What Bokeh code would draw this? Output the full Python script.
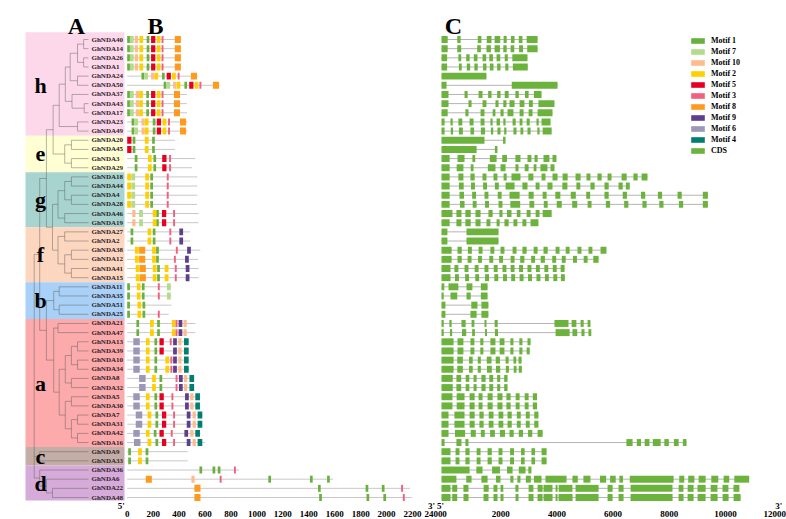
from bokeh.plotting import figure
from bokeh.models import Range1d, Legend, LegendItem
from bokeh.core.properties import value
from bokeh.embed import file_html
from bokeh.resources import INLINE

# ---------------- data ----------------
GENES = ["GhNDA40", "GhNDA14", "GhNDA26", "GhNDA1", "GhNDA24", "GhNDA50", "GhNDA37", "GhNDA43", "GhNDA17", "GhNDA23", "GhNDA49",
         "GhNDA20", "GhNDA45", "GhNDA3", "GhNDA29",
         "GhNDA18", "GhNDA44", "GhNDA4", "GhNDA28", "GhNDA46", "GhNDA19",
         "GhNDA27", "GhNDA2", "GhNDA38", "GhNDA12", "GhNDA41", "GhNDA15",
         "GhNDA11", "GhNDA35", "GhNDA51", "GhNDA25",
         "GhNDA21", "GhNDA47", "GhNDA13", "GhNDA39", "GhNDA10", "GhNDA34", "GhNDA8", "GhNDA32", "GhNDA5", "GhNDA30",
         "GhNDA7", "GhNDA31", "GhNDA42", "GhNDA16",
         "GhNDA9", "GhNDA33",
         "GhNDA36", "GhNDA6", "GhNDA22", "GhNDA48"]

GROUPS = ["h", "e", "g", "f", "b", "a", "c", "d"]
GROUP_SIZES = [11, 4, 6, 6, 4, 14, 2, 4]
GROUP_COLORS = ["#FDD8EA", "#FFFFD3", "#A7D4CF", "#FDD6C0", "#A9D0F6", "#FCAAAB", "#C4ADA6", "#D6ABD9"]

TREE = (0.11, [
    (0.20, [
        (0.31, [
            (0.42, [
                (0.52, [
                    (0.62, [
                        (0.70, [(0.82, [(0.92, ["GhNDA40", "GhNDA14"]), (0.92, ["GhNDA26", "GhNDA1"])]),
                                (0.82, ["GhNDA24", "GhNDA50"])]),
                        (0.73, ["GhNDA37", (0.93, ["GhNDA43", "GhNDA17"])]),
                    ]),
                    (0.82, ["GhNDA23", "GhNDA49"]),
                ]),
                (0.61, [(0.72, ["GhNDA20", "GhNDA45"]), (0.72, ["GhNDA3", "GhNDA29"])]),
            ]),
            (0.41, [
                (0.50, [(0.61, [(0.72, ["GhNDA18", "GhNDA44"]), (0.72, ["GhNDA4", "GhNDA28"])]),
                        (0.61, ["GhNDA46", "GhNDA19"])]),
                (0.50, [(0.61, ["GhNDA27", "GhNDA2"]),
                        (0.61, [(0.72, ["GhNDA38", "GhNDA12"]), (0.72, ["GhNDA41", "GhNDA15"])])]),
            ]),
        ]),
        (0.31, [
            (0.43, [(0.52, ["GhNDA11", "GhNDA35"]), (0.52, ["GhNDA51", "GhNDA25"])]),
            (0.43, [
                (0.50, ["GhNDA21", "GhNDA47"]),
                (0.52, [
                    (0.62, [(0.72, [(0.82, ["GhNDA13", "GhNDA39"]), (0.82, ["GhNDA10", "GhNDA34"])]),
                            (0.72, ["GhNDA8", "GhNDA32"])]),
                    (0.62, [(0.72, ["GhNDA5", "GhNDA30"]),
                            (0.72, [(0.82, ["GhNDA7", "GhNDA31"]), (0.82, ["GhNDA42", "GhNDA16"])])]),
                ]),
            ]),
        ]),
    ]),
    (0.20, ["GhNDA9", "GhNDA33"]),
    (0.20, ["GhNDA36", (0.31, ["GhNDA6", (0.41, ["GhNDA22", "GhNDA48"])])]),
])

MOTIF_IDS = [1, 7, 10, 2, 5, 3, 8, 9, 6, 4]
MOTIF_COLORS = ["#6AB03F", "#B3DB8D", "#FDBB8E", "#FFD000", "#E60020", "#F2607F", "#FF9A1F", "#5D3F8D", "#9C97B7", "#007F70"]
MOTIF_WIDTHS = [21, 29, 25, 29, 33, 15, 47, 29, 50, 36]
CDS_COLOR = "#6CB33E"

PROT_LEN = {
    "GhNDA40": 415, "GhNDA14": 415, "GhNDA26": 415, "GhNDA1": 415, "GhNDA24": 545, "GhNDA50": 710,
    "GhNDA37": 460, "GhNDA43": 460, "GhNDA17": 460, "GhNDA23": 465, "GhNDA49": 465,
    "GhNDA20": 368, "GhNDA45": 368, "GhNDA3": 525, "GhNDA29": 500,
    "GhNDA18": 540, "GhNDA44": 540, "GhNDA4": 540, "GhNDA28": 540, "GhNDA46": 551, "GhNDA19": 551,
    "GhNDA27": 485, "GhNDA2": 485, "GhNDA38": 564, "GhNDA12": 546, "GhNDA41": 551, "GhNDA15": 551,
    "GhNDA11": 341, "GhNDA35": 341, "GhNDA51": 341, "GhNDA25": 320,
    "GhNDA21": 525, "GhNDA47": 525, "GhNDA13": 478, "GhNDA39": 478, "GhNDA10": 478, "GhNDA34": 478,
    "GhNDA8": 517, "GhNDA32": 517, "GhNDA5": 565, "GhNDA30": 565, "GhNDA7": 580, "GhNDA31": 580,
    "GhNDA42": 565, "GhNDA16": 598, "GhNDA9": 467, "GhNDA33": 467,
    "GhNDA36": 862, "GhNDA6": 1588, "GhNDA22": 2180, "GhNDA48": 2195,
}

H1 = [(1, 0), (7, 21), (10, 58), (2, 94), (1, 150), (5, 184), (2, 228), (3, 265), (8, 367)]
H2 = [(1, 0), (7, 21), (10, 66), (2, 92), (1, 147), (5, 184), (2, 228), (3, 265), (8, 360)]
H3 = [(1, 34), (7, 55), (10, 110), (2, 136), (1, 197), (5, 228), (2, 273), (3, 315), (8, 407)]
E1 = [(5, 0), (1, 42), (2, 136), (1, 192)]
E2 = [(1, 58), (2, 160), (1, 202), (5, 270), (3, 323)]
G1 = [(2, 0), (7, 32), (2, 139), (1, 178), (3, 305)]
G2 = [(10, 39), (7, 92), (2, 197), (1, 223), (5, 268), (3, 354)]
F1 = [(1, 26), (2, 157), (1, 197), (3, 325), (9, 402)]
F2 = [(2, 66), (8, 97), (2, 197), (1, 231), (2, 289), (3, 367), (9, 451)]
B1 = [(1, 0), (2, 74), (1, 113), (3, 236), (7, 307)]
A1 = [(1, 71), (2, 176), (1, 231), (2, 344), (3, 373), (9, 396), (10, 434)]
A2 = [(6, 47), (2, 144), (1, 210), (2, 294), (3, 333), (9, 354), (10, 394), (4, 438)]
A3 = [(6, 92), (2, 192), (1, 249), (3, 373), (9, 399), (10, 438), (4, 480)]
A4 = [(6, 47), (2, 144), (1, 210), (5, 249), (3, 341), (9, 446), (10, 486), (4, 525)]
A5 = [(6, 66), (2, 157), (1, 218), (5, 268), (3, 354), (9, 459), (10, 504), (4, 543)]
C1 = [(1, 8), (2, 84), (1, 142)]

MOTIFS = {
    "GhNDA40": H1, "GhNDA14": H1, "GhNDA26": H1, "GhNDA1": H1,
    "GhNDA24": [(1, 110), (7, 131), (10, 184), (2, 210), (1, 268), (5, 304), (2, 346), (3, 389), (8, 491)],
    "GhNDA50": [(1, 281), (7, 302), (10, 354), (2, 381), (1, 441), (5, 478), (2, 520), (3, 557), (8, 661)],
    "GhNDA37": H2, "GhNDA43": H2, "GhNDA17": H2, "GhNDA23": H3, "GhNDA49": H3,
    "GhNDA20": E1, "GhNDA45": E1, "GhNDA3": E2, "GhNDA29": E2,
    "GhNDA18": G1, "GhNDA44": G1, "GhNDA4": G1, "GhNDA28": G1, "GhNDA46": G2, "GhNDA19": G2,
    "GhNDA27": F1, "GhNDA2": F1,
    "GhNDA38": [(2, 60), (8, 92), (2, 192), (1, 223), (3, 375), (9, 462)],
    "GhNDA12": [(2, 60), (8, 92), (2, 192), (1, 223), (3, 360), (9, 446)],
    "GhNDA41": F2, "GhNDA15": F2,
    "GhNDA11": B1, "GhNDA35": B1,
    "GhNDA51": [(1, 0), (2, 79), (1, 118)],
    "GhNDA25": [(1, 0), (2, 79), (1, 118), (3, 236)],
    "GhNDA21": A1, "GhNDA47": A1,
    "GhNDA13": [(6, 47), (2, 144), (1, 210), (5, 249), (3, 328), (9, 354), (10, 394), (4, 438)],
    "GhNDA39": [(6, 47), (2, 144), (1, 210), (5, 249), (9, 354), (10, 394), (4, 438)],
    "GhNDA10": A2, "GhNDA34": A2, "GhNDA8": A3, "GhNDA32": A3,
    "GhNDA5": A4, "GhNDA30": A4, "GhNDA7": A5, "GhNDA31": A5,
    "GhNDA42": [(6, 47), (2, 144), (1, 205), (5, 249), (3, 336), (9, 441), (10, 486), (4, 525)],
    "GhNDA16": [(6, 52), (2, 157), (1, 218), (5, 268), (3, 354), (9, 459), (10, 504), (4, 543)],
    "GhNDA9": C1, "GhNDA33": C1,
    "GhNDA36": [(1, 557), (1, 658), (1, 698), (3, 823)],
    "GhNDA6": [(8, 143), (10, 495), (3, 713), (1, 1088), (1, 1409), (1, 1541)],
    "GhNDA22": [(8, 518), (1, 1471), (1, 1838), (1, 1963), (3, 2112)],
    "GhNDA48": [(8, 518), (1, 1480), (1, 1845), (1, 1975), (3, 2125)],
}

EXONS = {
    "GhNDA40": [(0, 220), (560, 680), (1290, 1420), (1610, 1780), (1890, 2090), (2210, 2320), (2470, 2600), (2750, 2880), (3030, 3420)],
    "GhNDA14": [(0, 220), (560, 700), (1270, 1400), (1600, 1760), (1890, 2080), (2200, 2320), (2460, 2590), (2760, 2900), (3050, 3420)],
    "GhNDA26": [(0, 200), (600, 700), (880, 1000), (1150, 1280), (1460, 1590), (1700, 1830), (1960, 2090), (2250, 2360), (2520, 3060)],
    "GhNDA1": [(0, 200), (620, 720), (900, 1020), (1170, 1290), (1480, 1600), (1720, 1850), (1980, 2100), (2270, 2380), (2540, 3070)],
    "GhNDA24": [(0, 1600)],
    "GhNDA50": [(0, 180), (2500, 4130)],
    "GhNDA37": [(0, 250), (820, 930), (1320, 1460), (1660, 1780), (1980, 2100), (2250, 2390), (2630, 2750), (2970, 3100), (3290, 3560)],
    "GhNDA43": [(0, 250), (960, 1070), (1460, 1600), (1920, 2030), (2200, 2310), (2420, 2600), (2780, 2950), (3110, 3250), (3450, 4020)],
    "GhNDA17": [(0, 220), (850, 960), (1390, 1530), (1820, 1920), (2100, 2210), (2350, 2560), (2780, 2920), (3100, 3240), (3420, 3950)],
    "GhNDA23": [(0, 110), (320, 400), (600, 740), (1000, 1140), (1390, 1530), (1740, 1820), (1960, 2080), (2200, 2280), (2530, 2640), (2780, 2880), (3030, 3140), (3380, 3460), (3560, 3880)],
    "GhNDA49": [(0, 110), (330, 410), (620, 760), (1030, 1160), (1400, 1550), (1760, 1840), (1990, 2100), (2230, 2310), (2560, 2670), (2810, 2910), (3060, 3170), (3410, 3490), (3600, 3920)],
    "GhNDA20": [(0, 1530), (2190, 2280)],
    "GhNDA45": [(0, 1250), (1900, 1990)],
    "GhNDA3": [(0, 290), (570, 820), (1100, 1200), (1720, 1960), (2160, 2330), (2630, 2810), (3060, 3200), (3310, 3420), (3630, 3840), (3950, 4090)],
    "GhNDA29": [(0, 290), (540, 780), (1040, 1140), (1650, 1920), (2100, 2280), (2630, 2740), (2960, 3100), (3280, 3380), (3520, 3770), (3880, 4020)],
    "GhNDA18": [(0, 290), (600, 780), (1030, 1180), (1460, 1600), (1850, 1990), (2210, 2320), (2490, 2810), (3090, 3270), (3560, 3700), (3950, 4130), (4310, 4490), (4770, 4950), (5160, 5300), (5550, 5700), (5910, 6050), (6410, 6590), (6830, 6980), (7120, 7330)],
    "GhNDA44": [(0, 290), (620, 790), (1050, 1190), (1480, 1620), (1900, 2040), (2280, 2600), (2880, 3060), (3350, 3490), (3770, 3950), (4300, 4480), (4800, 4940), (5300, 5450), (5800, 5950), (6300, 6450), (6560, 6700)],
    "GhNDA4": [(0, 290), (640, 800), (1090, 1230), (1530, 1670), (2000, 2140), (2420, 2780), (3100, 3280), (3600, 3740), (4050, 4230), (4600, 4780), (5150, 5290), (5800, 5950), (6450, 6600), (7100, 7250), (7700, 7850), (8400, 8550), (9300, 9480)],
    "GhNDA28": [(0, 290), (660, 820), (1110, 1250), (1550, 1690), (2030, 2170), (2450, 2800), (3130, 3300), (3640, 3780), (4100, 4280), (4650, 4830), (5200, 5340), (5850, 6000), (6500, 6650), (7150, 7300), (7750, 7900), (8450, 8600), (9300, 9480)],
    "GhNDA46": [(0, 390), (530, 710), (850, 1040), (1210, 1390), (1670, 1820), (2060, 2170), (2330, 2490), (2680, 2810), (3030, 3170), (3350, 3490), (3600, 3920)],
    "GhNDA19": [(0, 290), (530, 710), (850, 1040), (1210, 1390), (1600, 1740), (1960, 2070), (2240, 2390), (2560, 2700), (2880, 3020), (3170, 3450)],
    "GhNDA27": [(0, 210), (890, 2030)],
    "GhNDA2": [(0, 210), (890, 2030)],
    "GhNDA38": [(0, 360), (570, 720), (940, 1080), (1320, 1460), (1740, 1880), (2100, 2240), (2530, 2670), (2880, 3030), (3280, 3420), (3630, 3780), (4060, 4200), (4420, 4560), (4840, 4980), (5230, 5370), (5660, 5870)],
    "GhNDA12": [(0, 360), (570, 720), (930, 1070), (1300, 1440), (1700, 1840), (2050, 2190), (2460, 2600), (2800, 2950), (3190, 3330), (3530, 3680), (3940, 4080), (4280, 4420), (4680, 4820), (5060, 5200), (5400, 5590)],
    "GhNDA41": [(0, 320), (460, 600), (820, 960), (1180, 1320), (1530, 1670), (1860, 2000), (2170, 2310), (2460, 2600), (2760, 2900), (3060, 3200), (3360, 3500), (3660, 3800), (3960, 4100), (4240, 4380)],
    "GhNDA15": [(0, 320), (480, 620), (840, 980), (1200, 1340), (1550, 1690), (1880, 2020), (2190, 2330), (2480, 2620), (2780, 2920), (3080, 3220), (3380, 3520), (3680, 3820), (3980, 4120), (4250, 4390)],
    "GhNDA11": [(0, 100), (250, 600), (890, 1100), (1400, 1640)],
    "GhNDA35": [(0, 80), (320, 560), (890, 1040), (1400, 1640)],
    "GhNDA51": [(0, 140), (1060, 1280), (1420, 1670)],
    "GhNDA25": [(0, 140), (1030, 1250), (1420, 1670)],
    "GhNDA21": [(0, 80), (280, 360), (710, 860), (1070, 1170), (1530, 1600), (1890, 2000), (4020, 4520), (4630, 4800), (4950, 5060), (5200, 5300)],
    "GhNDA47": [(0, 80), (300, 380), (730, 880), (1090, 1190), (1550, 1620), (1900, 2010), (4060, 4560), (4660, 4830), (4980, 5090), (5230, 5330)],
    "GhNDA13": [(0, 430), (570, 780), (1030, 1170), (1380, 1490), (1740, 1920), (2070, 2240), (2450, 2560), (2770, 2880), (3060, 3170)],
    "GhNDA39": [(0, 430), (570, 780), (1030, 1170), (1380, 1490), (1740, 1920), (2070, 2240), (2450, 2560), (2770, 2880), (3030, 3140)],
    "GhNDA10": [(0, 430), (560, 760), (980, 1110), (1290, 1400), (1610, 1780), (1930, 2080), (2280, 2390), (2560, 2660), (2740, 2850)],
    "GhNDA34": [(0, 430), (560, 760), (980, 1110), (1290, 1400), (1620, 1790), (1940, 2090), (2290, 2400), (2570, 2670), (2750, 2860)],
    "GhNDA8": [(0, 400), (530, 700), (860, 990), (1140, 1250), (1420, 1570), (1700, 1840), (1980, 2090), (2230, 2350)],
    "GhNDA32": [(0, 400), (530, 700), (860, 990), (1140, 1250), (1420, 1570), (1700, 1840), (1980, 2090), (2230, 2350)],
    "GhNDA5": [(0, 390), (540, 820), (1000, 1180), (1320, 1460), (1640, 1820), (1990, 2170), (2310, 2460), (2640, 2780), (2960, 3100), (3250, 3400)],
    "GhNDA30": [(0, 390), (540, 820), (1000, 1180), (1320, 1460), (1640, 1820), (1990, 2170), (2310, 2460), (2640, 2780), (2960, 3100), (3250, 3400)],
    "GhNDA7": [(0, 250), (460, 820), (1000, 1180), (1350, 1500), (1680, 1850), (2030, 2200), (2350, 2500), (2680, 2820), (3000, 3140), (3300, 3450)],
    "GhNDA31": [(0, 250), (460, 820), (1000, 1180), (1350, 1500), (1680, 1850), (2030, 2200), (2350, 2500), (2680, 2820), (3000, 3140), (3300, 3450)],
    "GhNDA42": [(0, 250), (480, 840), (1040, 1220), (1400, 1540), (1730, 1900), (2080, 2260), (2420, 2570), (2750, 2900), (3080, 3230), (3420, 3600)],
    "GhNDA16": [(0, 110), (530, 710), (850, 960), (6580, 6800), (6950, 7100), (7230, 7400), (7520, 7800), (7930, 8090), (8270, 8440), (8590, 8720)],
    "GhNDA9": [(0, 320), (500, 640), (850, 1000), (1250, 1390), (1640, 1790), (2030, 2170), (2440, 2580), (2830, 2960), (3200, 3330), (3560, 3740)],
    "GhNDA33": [(0, 320), (500, 640), (850, 1000), (1250, 1390), (1640, 1790), (2030, 2170), (2440, 2580), (2830, 2960), (3200, 3330), (3560, 3740)],
    "GhNDA36": [(0, 1000), (1240, 1460), (1800, 2080), (2330, 2530), (2750, 2990), (3090, 3200)],
    "GhNDA6": [(0, 530), (880, 1070), (1420, 1640), (1940, 2100), (2450, 2560), (2700, 2810), (3000, 3180), (3290, 3560), (3700, 4450), (4660, 4850), (5050, 5300), (5640, 5860), (6000, 6200), (6330, 6460), (6700, 8260), (8460, 8640), (8780, 9000), (9150, 9400), (9600, 9850), (10040, 10240), (10420, 10950)],
    "GhNDA22": [(0, 320), (380, 560), (780, 960), (1500, 1680), (1850, 1990), (2100, 2200), (2630, 2740), (3100, 3270), (3420, 3600), (3630, 3950), (4060, 4130), (4170, 4660), (4770, 5590), (5910, 6090), (6300, 6480), (6730, 8220), (8440, 8610), (8760, 8970), (9110, 9400), (9580, 9820), (10000, 10210), (10390, 10600)],
    "GhNDA48": [(0, 320), (381, 559), (783, 961), (1495, 1673), (1851, 1994), (2100, 2207), (2634, 2741), (3097, 3275), (3418, 3596), (3631, 3952), (4058, 4130), (4165, 4664), (4771, 5590), (5910, 6088), (6301, 6479), (6728, 8224), (8437, 8615), (8758, 8971), (9114, 9398), (9576, 9826), (10004, 10217), (10395, 10645)],
}

MOTIF_TICKS = [0, 200, 400, 600, 800, 1000, 1200, 1400, 1600, 1800, 2000, 2200, 2400]
GENE_TICKS = [0, 2000, 4000, 6000, 8000, 10000, 12000]
PANEL_TITLES = ["A", "B", "C"]

# ---------------- layout (reference pixel frame) ----------------
W, H = 786, 519
X0, X1 = 0.0, 786.0               # layout px covered by the frame
ROW0, ROWSTEP = 39.0, 9.16        # layout px of first row, row spacing
def row_of(py):
    return (py - ROW0) / ROWSTEP
Y_TOP, Y_BOT = row_of(0.0), row_of(519.0)

def xr(origin, k):
    return Range1d((X0 - origin) / k, (X1 - origin) / k)

SERIF = value("Liberation Serif")
BOX = 0.38

p = figure(width=W, height=H, x_range=Range1d(X0, X1), y_range=Range1d(Y_BOT, Y_TOP),
           output_backend="svg", toolbar_location=None, min_border=0,
           x_axis_location=None, y_axis_location=None)
p.extra_x_ranges = {"tree": xr(27.0, 61.0), "motif": xr(126.7, 0.1297), "gene": xr(441.0, 0.0281)}
p.grid.visible = False
p.outline_line_color = None
p.background_fill_color = "white"
p.border_fill_color = "white"

# group backgrounds
tops, bots, cols, centers = [], [], [], []
start = 0
for gi, n in enumerate(GROUP_SIZES):
    t = start - 0.5 if gi > 0 else -0.8
    b = start + n - 0.5 if gi < len(GROUP_SIZES) - 1 else start + n - 0.67
    tops.append(t); bots.append(b); cols.append(GROUP_COLORS[gi])
    centers.append(start + (n - 1) / 2.0)
    start += n
p.quad(left=25, right=124, top=tops, bottom=bots, fill_color=cols, line_color=None)

# tree
segs = []
def lay(node):
    if isinstance(node, str):
        return 1.0, GENES.index(node)
    d, children = node
    ys = []
    for ch in children:
        cx, cy = lay(ch)
        segs.append((d, cy, cx, cy))
        ys.append(cy)
    segs.append((d, ys[0], d, ys[-1]))
    return d, (ys[0] + ys[-1]) / 2.0
lay(TREE)
p.segment(x0=[s[0] for s in segs], y0=[s[1] for s in segs], x1=[s[2] for s in segs], y1=[s[3] for s in segs],
          x_range_name="tree", line_color="#5a5a5a", line_alpha=0.45, line_width=1)

rows = list(range(len(GENES)))
p.text(x=[1.0] * len(GENES), y=rows, text=GENES, x_range_name="tree", x_offset=3,
       text_font=SERIF, text_font_style="bold", text_font_size="7px", text_color="#2a2228",
       text_align="left", text_baseline="middle")

# group letters and panel titles
p.text(x=[40] * len(GROUPS), y=centers, text=GROUPS, text_font=SERIF, text_font_style="bold",
       text_font_size="22px", text_color="black", text_align="center", text_baseline="middle")
p.text(x=[76, 155, 453], y=[row_of(25.5)] * 3, text=PANEL_TITLES, text_font=SERIF, text_font_style="bold",
       text_font_size="24px", text_color="black", text_align="center", text_baseline="alphabetic")

# motif panel
p.segment(x0=[0] * len(GENES), y0=rows, x1=[PROT_LEN[g] for g in GENES], y1=rows,
          x_range_name="motif", line_color="#c8c8c8", line_width=1)
renderers = []
for mid, col, w in zip(MOTIF_IDS, MOTIF_COLORS, MOTIF_WIDTHS):
    L, R, T, B = [], [], [], []
    for i, g in enumerate(GENES):
        for m, s in MOTIFS[g]:
            if m == mid:
                L.append(s); R.append(s + w); T.append(i - BOX); B.append(i + BOX)
    r = p.quad(left=L, right=R, top=T, bottom=B, x_range_name="motif", fill_color=col, line_color=None)
    renderers.append(("Motif %d" % mid, r))

# gene structure panel
p.segment(x0=[0] * len(GENES), y0=rows, x1=[EXONS[g][-1][1] for g in GENES], y1=rows,
          x_range_name="gene", line_color="#b4b4b4", line_width=1)
L, R, T, B = [], [], [], []
for i, g in enumerate(GENES):
    for s, e in EXONS[g]:
        L.append(s); R.append(e); T.append(i - BOX); B.append(i + BOX)
rc = p.quad(left=L, right=R, top=T, bottom=B, x_range_name="gene", fill_color=CDS_COLOR, line_color=None)
renderers.append(("CDS", rc))

# scale labels
ty = row_of(513.0)
LBL = dict(text_font=SERIF, text_font_style="bold", text_font_size="9px",
           text_align="center", text_baseline="middle", text_color="black")
p.text(x=MOTIF_TICKS[:-1], y=[ty] * (len(MOTIF_TICKS) - 1), text=[str(t) for t in MOTIF_TICKS[:-1]],
       x_range_name="motif", **LBL)
p.text(x=MOTIF_TICKS[-1:], y=[ty], text=[str(MOTIF_TICKS[-1])], x_range_name="motif", x_offset=-5, **LBL)
p.text(x=GENE_TICKS[:-1], y=[ty] * (len(GENE_TICKS) - 1), text=[str(t) for t in GENE_TICKS[:-1]],
       x_range_name="gene", x_offset=3, **LBL)
p.text(x=GENE_TICKS[-1:], y=[ty], text=[str(GENE_TICKS[-1])], x_range_name="gene", x_offset=-4, **LBL)
py_ = row_of(505.0)
END = dict(text_font=SERIF, text_font_style="bold", text_font_size="9px",
           text_align="center", text_baseline="middle", text_color="black")
p.text(x=[0, MOTIF_TICKS[-1]], y=[py_, py_], text=["5'", "3'"], x_range_name="motif", x_offset=[-6, -7], **END)
p.text(x=[0, GENE_TICKS[-1]], y=[py_, py_], text=["5'", "3'"], x_range_name="gene", x_offset=[-1, 0], **END)

legend = Legend(items=[LegendItem(label=n, renderers=[r]) for n, r in renderers],
                location=(689, 364), orientation="vertical",
                glyph_width=17, glyph_height=7, label_height=10, label_standoff=5, spacing=1,
                padding=0, margin=0, border_line_color=None, background_fill_alpha=0,
                label_text_font="Liberation Serif", label_text_font_style="bold",
                label_text_font_size="8px", label_text_color="black")
p.add_layout(legend)

open("out.html", "w").write(file_html(p, INLINE))
